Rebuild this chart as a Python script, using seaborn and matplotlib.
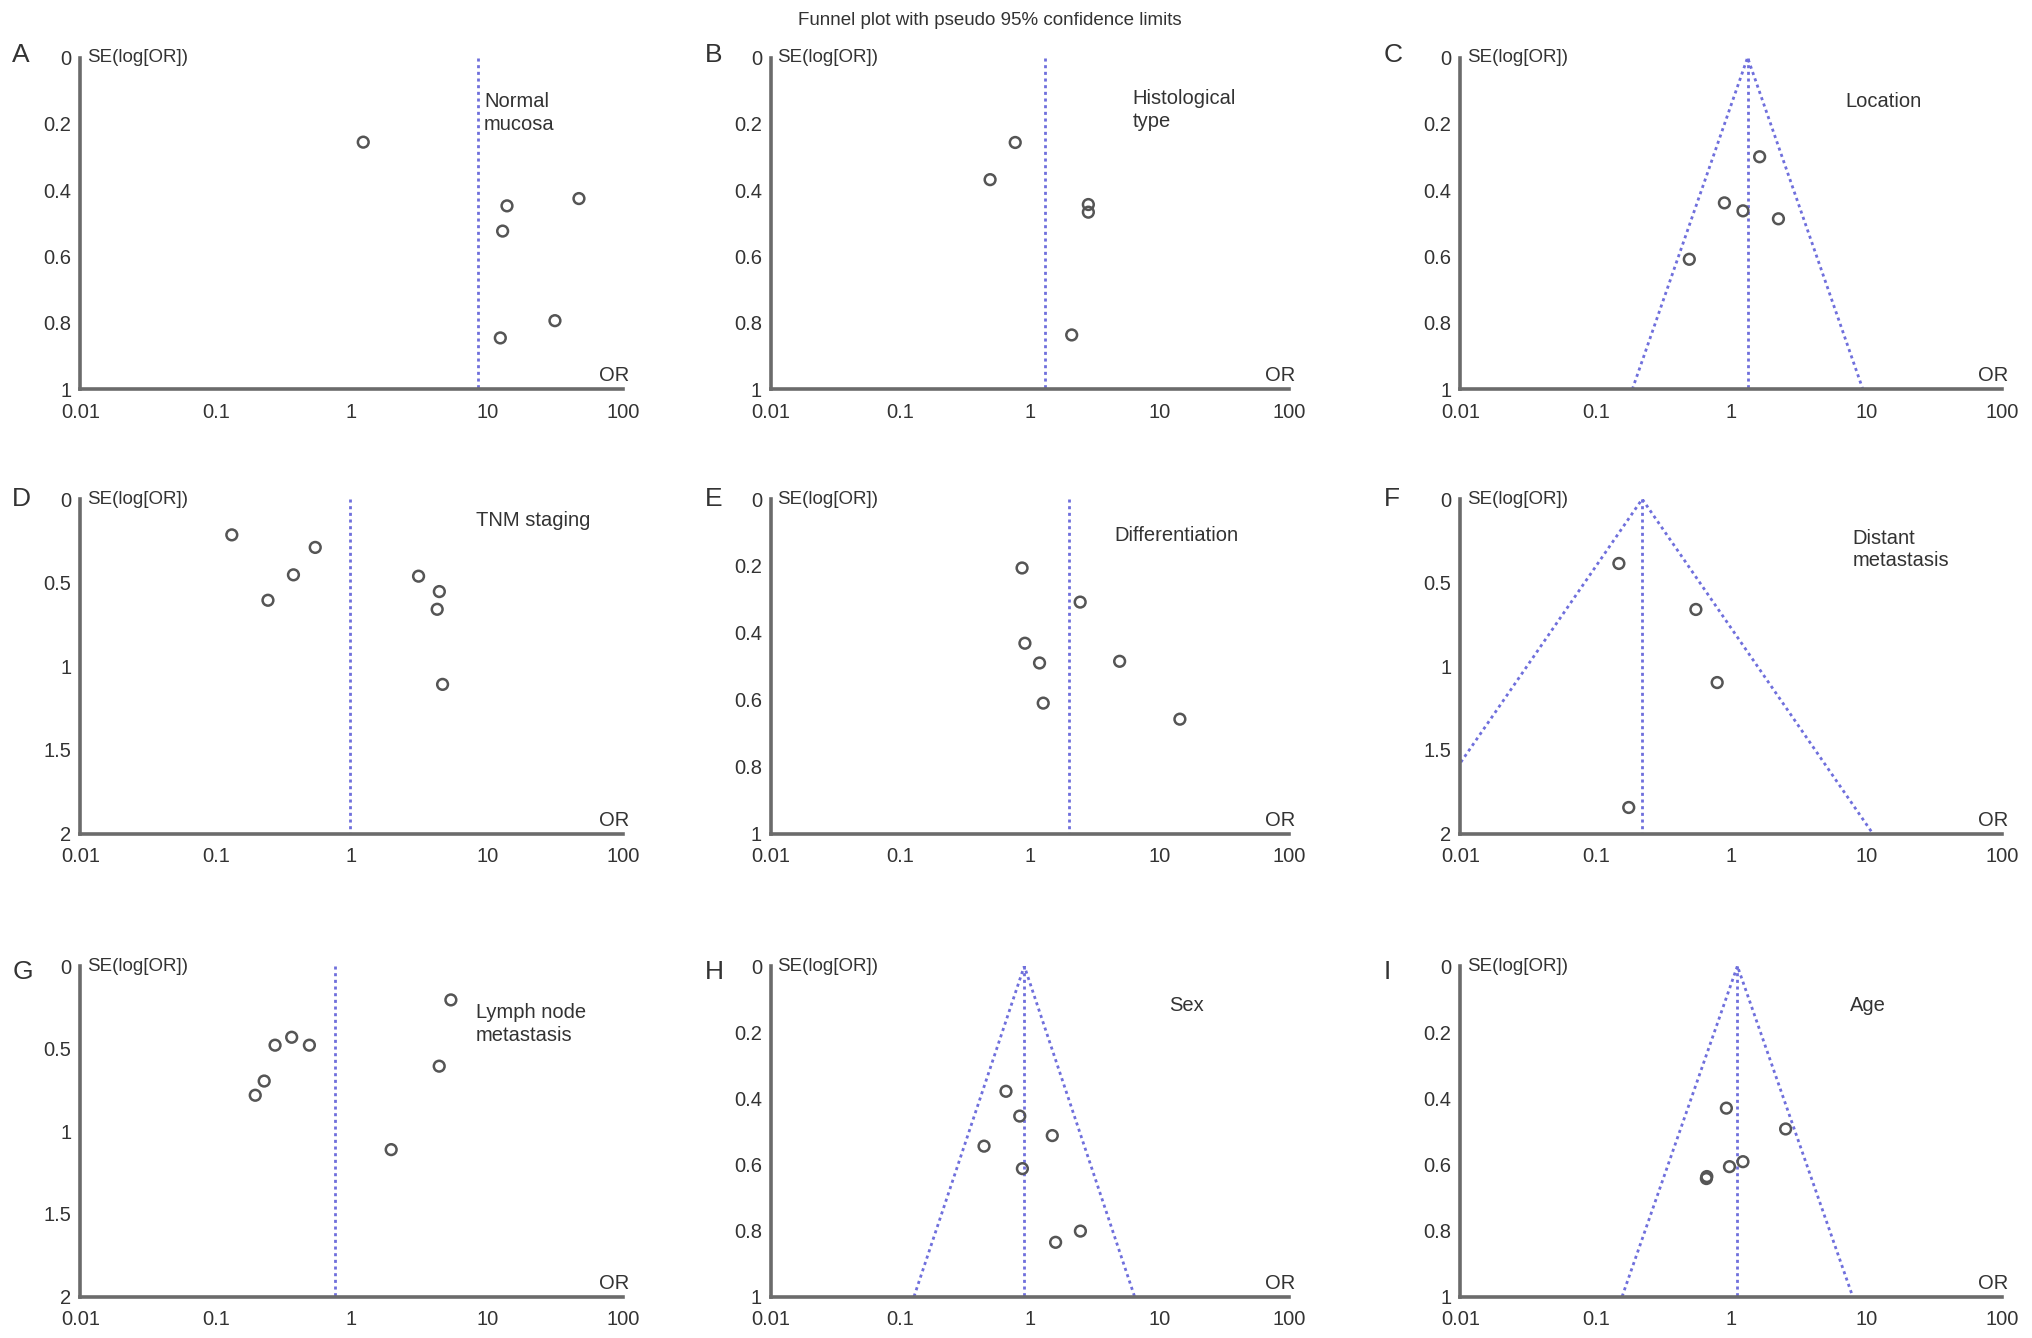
import numpy as np
import pandas as pd
import seaborn as sns
import matplotlib
matplotlib.use("Agg")
import matplotlib.pyplot as plt
import matplotlib.ticker as mtick

# values (OR, SE(log OR)) per panel, plus pooled OR
a_or = [1.22, 14.0, 13.0, 47.5, 31.6, 12.5]
a_se = [0.255, 0.447, 0.523, 0.425, 0.793, 0.845]
a_pooled = 8.6

b_or = [0.766, 0.49, 2.81, 2.81, 2.09]
b_se = [0.256, 0.368, 0.443, 0.466, 0.836]
b_pooled = 1.31

c_or = [1.62, 0.89, 1.22, 2.23, 0.49]
c_se = [0.299, 0.438, 0.462, 0.486, 0.608]
c_pooled = 1.32

d_or = [0.131, 0.54, 0.373, 0.242, 3.12, 4.44, 4.28, 4.69]
d_se = [0.214, 0.289, 0.453, 0.605, 0.461, 0.553, 0.659, 1.108]
d_pooled = 0.98

e_or = [0.865, 2.43, 0.91, 1.18, 1.26, 4.9, 14.3]
e_se = [0.206, 0.308, 0.431, 0.490, 0.610, 0.485, 0.658]
e_pooled = 1.98

f_or = [0.148, 0.548, 0.787, 0.175]
f_se = [0.385, 0.660, 1.097, 1.844]
f_pooled = 0.22

g_or = [5.4, 0.273, 0.362, 0.489, 0.227, 0.195, 4.43, 1.96]
g_se = [0.205, 0.479, 0.431, 0.479, 0.696, 0.782, 0.606, 1.111]
g_pooled = 0.76

h_or = [0.65, 0.83, 1.48, 0.44, 0.87, 2.44, 1.57]
h_se = [0.379, 0.454, 0.513, 0.545, 0.613, 0.802, 0.836]
h_pooled = 0.90

i_or = [0.92, 2.52, 1.22, 0.97, 0.66, 0.655]
i_se = [0.430, 0.493, 0.592, 0.607, 0.637, 0.643]
i_pooled = 1.11

x_ticks = [0.01, 0.1, 1, 10, 100]
x_tick_labels = ["0.01", "0.1", "1", "10", "100"]

panels = [
    ("A", "Normal\nmucosa", a_or, a_se, a_pooled, 1.0, False),
    ("B", "Histological\ntype", b_or, b_se, b_pooled, 1.0, False),
    ("C", "Location", c_or, c_se, c_pooled, 1.0, True),
    ("D", "TNM staging", d_or, d_se, d_pooled, 2.0, False),
    ("E", "Differentiation", e_or, e_se, e_pooled, 1.0, False),
    ("F", "Distant\nmetastasis", f_or, f_se, f_pooled, 2.0, True),
    ("G", "Lymph node\nmetastasis", g_or, g_se, g_pooled, 2.0, False),
    ("H", "Sex", h_or, h_se, h_pooled, 1.0, True),
    ("I", "Age", i_or, i_se, i_pooled, 1.0, True),
]

# layout (figure fractions)
col_left = [0.0395, 0.3795, 0.7187]
col_width = [0.267, 0.255, 0.2666]
row_bottom = [0.709, 0.377, 0.031]
row_height = [0.248, 0.250, 0.247]
letter_x = [0.006, 0.347, 0.681]
letter_y = [0.954, 0.622, 0.268]
label_pos = [(0.744, 0.105), (0.697, 0.096), (0.71, 0.104),
             (0.73, 0.035), (0.662, 0.081), (0.724, 0.088),
             (0.729, 0.112), (0.769, 0.091), (0.72, 0.09)]

sns.set_style("white")
plt.rcParams["font.family"] = ["Liberation Sans", "DejaVu Sans"]

axis_col = "#6b6b6b"
text_col = "#333333"
line_col = "#6f6fdc"
line_style = (0, (1.1, 1.3))
z95 = 1.96

fig = plt.figure(figsize=(20.32, 13.38), dpi=100)

fig.text(0.487, 0.985, "Funnel plot with pseudo 95% confidence limits",
         ha="center", va="center", fontsize=13.5, color=text_col)

for k, (letter, label, ors, ses, pooled, se_max, funnel) in enumerate(panels):
    r, c = divmod(k, 3)
    ax = fig.add_axes([col_left[c], row_bottom[r], col_width[c], row_height[r]])
    df = pd.DataFrame({"OR": ors, "SE": ses})

    # pooled estimate line
    ax.plot([pooled, pooled], [0, se_max], color=line_col, lw=2.0,
            ls=line_style, zorder=2)
    if funnel:
        lo = pooled * np.exp(-z95 * se_max)
        hi = pooled * np.exp(z95 * se_max)
        ax.plot([lo, pooled, hi], [se_max, 0, se_max], color=line_col, lw=2.0,
                ls=line_style, zorder=2)

    sns.scatterplot(data=df, x="OR", y="SE", ax=ax, marker="o", s=60,
                    facecolor="none", edgecolor="#555555", linewidth=1.8,
                    zorder=3, legend=False)

    ax.set_xscale("log")
    ax.set_xlim(0.01, 100)
    ax.set_ylim(se_max, 0)
    ax.set_xticks(x_ticks)
    ax.set_xticklabels(x_tick_labels)
    ax.xaxis.set_minor_locator(mtick.NullLocator())
    step = 0.5 if se_max > 1 else 0.2
    ax.set_yticks(np.arange(0, se_max + 1e-9, step))
    ax.yaxis.set_major_formatter(mtick.FuncFormatter(lambda v, p: f"{v:g}"))
    ax.set_xlabel("")
    ax.set_ylabel("")

    for s in ["top", "right"]:
        ax.spines[s].set_visible(False)
    for s in ["left", "bottom"]:
        ax.spines[s].set_color(axis_col)
        ax.spines[s].set_linewidth(2.6)
    ax.tick_params(axis="both", direction="inout", length=7, width=1.6,
                   color=axis_col, labelsize=14.5, labelcolor=text_col, pad=3)
    ax.tick_params(axis="x", pad=6)

    ax.text(0.012, 1.0, "SE(log[OR])", transform=ax.transAxes, ha="left",
            va="center", fontsize=13.5, color=text_col)
    ax.text(1.012, 0.012, "OR", transform=ax.transAxes, ha="right",
            va="bottom", fontsize=14.5, color=text_col)
    lx, ly = label_pos[k]
    ax.text(lx, 1 - ly, label, transform=ax.transAxes, ha="left", va="top",
            fontsize=14.5, color=text_col, linespacing=1.25)

    fig.text(letter_x[c], letter_y[r], letter, ha="left", va="baseline",
             fontsize=19, color=text_col)

fig.savefig("out.png", dpi=100, facecolor="white")
